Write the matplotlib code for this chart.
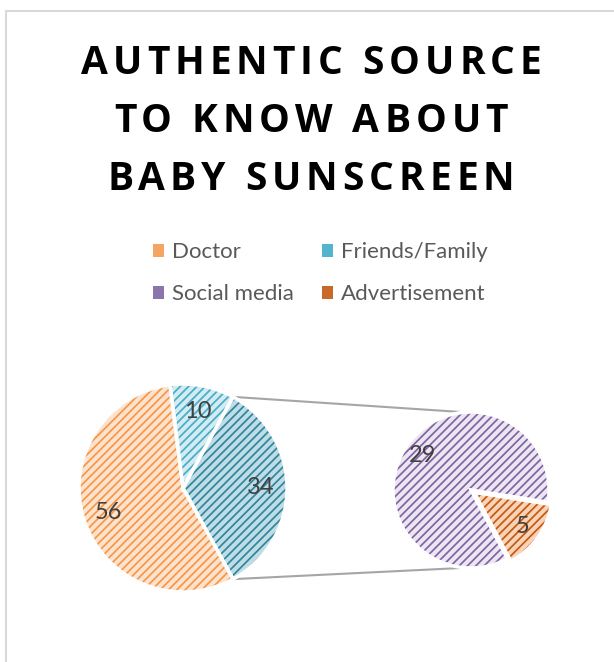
"""Pie of pie: authentic source to know about baby sunscreen."""
import matplotlib
matplotlib.use("Agg")
import matplotlib.pyplot as plt
from matplotlib.patches import Patch, Rectangle
import numpy as np

W, H = 614, 662

title_lines = ["AUTHENTIC SOURCE", "TO KNOW ABOUT", "BABY SUNSCREEN"]
categories = ["Doctor", "Friends/Family", "Social media", "Advertisement"]
values = [56, 10, 29, 5]

# main pie: combined "other" slice (social media + advertisement) first
main_values = [values[2] + values[3], values[1], values[0]]
main_faces = ["#BFDDE6", "#D2ECF3", "#FDE3CE"]
main_stripes = ["#31859C", "#4BACC6", "#F79646"]

# secondary pie: advertisement, social media
sub_values = [values[3], values[2]]
sub_faces = ["#F9D3B8", "#ECE6F3"]
sub_stripes = ["#C55A11", "#8064A2"]

legend_colors = ["#F5A461", "#52B5CC", "#8C74AC", "#C8692A"]

FONT = "Lato"
plt.rcParams["hatch.linewidth"] = 1.25


def hatched_pie(ax, vals, center, radius, start, faces, stripes, explode, pctdist):
    total = sum(vals)
    common = dict(center=center, radius=radius, startangle=start,
                  explode=explode, counterclock=True)
    ax.pie(vals, colors=faces, wedgeprops=dict(linewidth=0), **common)
    wedges, _ = ax.pie(vals, hatch="////",
                       wedgeprops=dict(facecolor="none", linewidth=0), **common)
    for w, c in zip(wedges, stripes):
        w.set_edgecolor(c)
    ax.pie(vals, autopct=lambda p: f"{p * total / 100:.0f}", pctdistance=pctdist,
           textprops=dict(fontsize=17, color="#404040", family=FONT),
           wedgeprops=dict(facecolor="none", edgecolor="white", linewidth=2.5),
           **common)


def spaced_text(fig, s, xc, y, size, spacing, family):
    """Draw a bold title line with extra letter spacing, centered at xc (px)."""
    r = fig.canvas.get_renderer()

    def width(txt):
        t = fig.text(0, 0, txt, fontsize=size, fontweight="bold", family=family)
        w = t.get_window_extent(r).width
        t.remove()
        return w

    lefts = [width(s[:i + 1]) - width(s[i]) if s[i] != " " else None
             for i in range(len(s))]
    total = width(s) + spacing * (len(s) - 1)
    x0 = xc - total / 2
    for i, ch in enumerate(s):
        if lefts[i] is None:
            continue
        fig.text((x0 + lefts[i] + i * spacing) / W, 1 - y / H, ch,
                 fontsize=size, fontweight="bold", family=family,
                 ha="left", va="center", color="black")


fig = plt.figure(figsize=(W / 100, H / 100), dpi=100)
ax = fig.add_axes([0, 0, 1, 1])

main_c, main_r = (183, H - 488), 104
sub_c, sub_r = (471, H - 490), 78

main_start = -180 * main_values[0] / sum(main_values)
hatched_pie(ax, main_values, main_c, main_r, main_start,
            main_faces, main_stripes, [0, 0, 0], 0.75)
hatched_pie(ax, sub_values, sub_c, sub_r, -62,
            sub_faces, sub_stripes, [4, 0], 0.76)

# connector lines from the "other" slice to the secondary pie
a = np.deg2rad(-main_start)
for sgn in (1, -1):
    x1 = main_c[0] + main_r * np.cos(a)
    y1 = main_c[1] + sgn * main_r * np.sin(a)
    ax.plot([x1, sub_c[0] - 10], [y1, sub_c[1] + sgn * sub_r], color="#A6A6A6",
            linewidth=1.5, solid_capstyle="butt", zorder=0)

ax.add_patch(Rectangle((6, -20), 700, H - 11 + 20, fill=False,
                       edgecolor="#D9D9D9", linewidth=1.5))
ax.set_xlim(0, W)
ax.set_ylim(0, H)
ax.set_aspect("equal")
ax.axis("off")

for line, y in zip(title_lines, [63, 121, 179]):
    spaced_text(fig, line, 311, y, 28, 5, "Open Sans")

order = [0, 2, 1, 3]
handles = [Patch(facecolor=legend_colors[i], edgecolor="none") for i in order]
fig.legend(handles, [categories[i] for i in order], ncol=2, loc="upper left",
           bbox_to_anchor=(142 / W, 1 - 231 / H), frameon=False, borderpad=0,
           handlelength=0.5, handleheight=0.5, handletextpad=0.35,
           columnspacing=1.25, labelspacing=1.0,
           prop=dict(family=FONT, size=16), labelcolor="#595959")

plt.savefig("out.png", dpi=100)
plt.close()
